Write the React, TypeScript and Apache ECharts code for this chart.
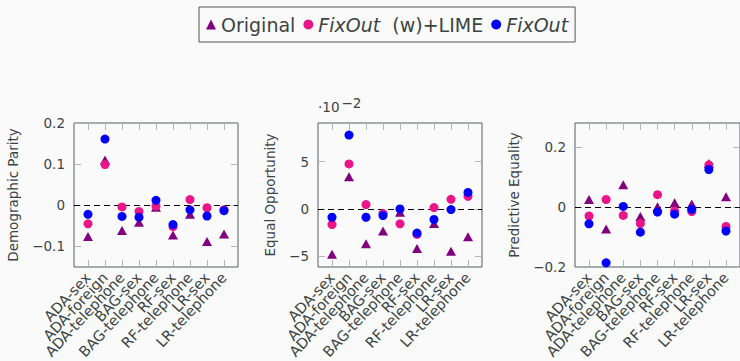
import React, { useEffect, useRef } from "react";
import * as echarts from "echarts";

// ---- data ----
const categories = [
  "ADA-sex", "ADA-foreign", "ADA-telephone", "BAG-sex", "BAG-telephone",
  "RF-sex", "RF-telephone", "LR-sex", "LR-telephone",
];
const seriesNames = ["Original", "FixOut (w)+LIME", "FixOut"];

// Demographic Parity
const dpOriginal = [-0.076, 0.11, -0.061, -0.041, -0.005, -0.072, -0.022, -0.088, -0.07];
const dpFixLime = [-0.045, 0.099, -0.004, -0.015, -0.002, -0.052, 0.014, -0.006, -0.011];
const dpFixOut = [-0.022, 0.161, -0.027, -0.029, 0.012, -0.047, -0.011, -0.026, -0.013];

// Equal Opportunity (in units of 10^-2)
const eoOriginal = [-4.8, 3.4, -3.68, -2.35, -0.35, -4.2, -1.54, -4.49, -2.95];
const eoFixLime = [-1.65, 4.77, 0.46, -0.49, -1.58, -2.7, 0.14, 1.02, 1.33];
const eoFixOut = [-0.88, 7.82, -0.88, -0.7, 0.0, -2.56, -1.12, -0.07, 1.75];

// Predictive Equality
const peOriginal = [0.025, -0.073, 0.074, -0.032, 0.001, 0.014, 0.01, 0.145, 0.034];
const peFixLime = [-0.03, 0.025, -0.028, -0.055, 0.041, -0.013, -0.015, 0.14, -0.065];
const peFixOut = [-0.056, -0.186, 0.002, -0.084, -0.017, -0.024, -0.008, 0.125, -0.08];

// tick labels
const dpTicks = [-0.1, 0, 0.1, 0.2];
const eoTicks = [-5, 0, 5];
const peTicks = [-0.2, 0, 0.2];

const FONT = "DejaVu Sans";
const TEXT = "#3a4444";
const BORDER = "#555d5d";
const TICK = "#b4b4b4";
const C_ORIG = "#800080";
const C_LIME = "#ea1589";
const C_FIX = "#0000ff";

const fmtNum = (v: number) => {
  const s = String(Math.round(v * 1000) / 1000);
  return s.replace("-", "\u2212");
};

export default function App() {
  const ref = useRef<HTMLDivElement>(null);

  useEffect(() => {
    if (!ref.current) return;
    const chart = echarts.init(ref.current, null, { renderer: "svg" });

    const PAD = 14; // distance from box edge to first / last category
    const panels = [
      { name: "Demographic Parity", left: 74, width: 164, min: -0.15, max: 0.2, ticks: dpTicks, nameGap: 54, data: [dpOriginal, dpFixLime, dpFixOut] },
      { name: "Equal Opportunity", left: 318, width: 164, min: -6.15, max: 9.1, ticks: eoTicks, nameGap: 41, data: [eoOriginal, eoFixLime, eoFixOut] },
      { name: "Predictive Equality", left: 575, width: 165, min: -0.2, max: 0.28, ticks: peTicks, nameGap: 54, data: [peOriginal, peFixLime, peFixOut] },
    ];

    const grid: any[] = [];
    const xAxis: any[] = [];
    const yAxis: any[] = [];
    const series: any[] = [];

    panels.forEach((p, gi) => {
      const gBox = gi * 2;
      const gCat = gi * 2 + 1;
      const span = (p.width - 2 * PAD) / (categories.length - 1);
      const padUnits = PAD / span;
      grid.push({
        left: p.left, top: 123, width: p.width, height: 144,
        show: true, borderColor: BORDER, borderWidth: 1, backgroundColor: "transparent",
        containLabel: false, outerBoundsMode: "none",
      });
      grid.push({
        left: p.left + PAD, top: 123, width: p.width - 2 * PAD, height: 144,
        show: false, containLabel: false, outerBoundsMode: "none",
      });

      // value x axis used by the marks (category index positions)
      const xValIdx = xAxis.length;
      xAxis.push({
        type: "value", gridIndex: gBox, min: -padUnits, max: categories.length - 1 + padUnits,
        show: false, axisLine: { show: false, onZero: false },
      });
      // category axes for labels and mirrored ticks
      const catBase = {
        type: "category", gridIndex: gCat, data: categories, boundaryGap: false,
        axisLine: { show: false, onZero: false }, splitLine: { show: false },
        axisTick: { show: true, inside: true, length: 7, interval: 0, lineStyle: { color: TICK, width: 1 } },
      };
      xAxis.push({
        ...catBase, position: "bottom",
        axisLabel: {
          show: true, interval: 0, rotate: 47, margin: 8, hideOverlap: false,
          fontFamily: FONT, fontSize: 14.5, color: TEXT,
        },
      });
      xAxis.push({ ...catBase, position: "top", axisLabel: { show: false } });

      const yBase = {
        type: "value", gridIndex: gBox, min: p.min, max: p.max,
        axisLine: { show: false, onZero: false }, splitLine: { show: false },
        axisTick: { show: true, inside: true, length: 7, customValues: p.ticks, lineStyle: { color: TICK, width: 1 } },
      };
      const yMainIdx = yAxis.length;
      yAxis.push({
        ...yBase, position: "left",
        name: p.name, nameLocation: "middle", nameGap: p.nameGap, nameRotate: 90,
        nameTextStyle: { fontFamily: FONT, fontSize: 13.5, color: TEXT },
        axisLabel: {
          show: true, customValues: p.ticks, margin: 9,
          showMinLabel: true, showMaxLabel: true,
          fontFamily: FONT, fontSize: 13.5, color: TEXT,
          formatter: (v: number) => fmtNum(v),
        },
      });
      yAxis.push({ ...yBase, position: "right", axisLabel: { show: false } });
      yAxis.push({ type: "value", gridIndex: gCat, min: 0, max: 1, show: false });

      const styles = [
        { color: C_ORIG, symbol: "triangle", size: [10, 9] },
        { color: C_LIME, symbol: "circle", size: 9 },
        { color: C_FIX, symbol: "circle", size: 9 },
      ];
      p.data.forEach((vals, si) => {
        const s: any = {
          type: "scatter",
          name: seriesNames[si],
          xAxisIndex: xValIdx,
          yAxisIndex: yMainIdx,
          symbol: styles[si].symbol,
          symbolSize: styles[si].size,
          itemStyle: { color: styles[si].color, opacity: 1 },
          data: vals.map((v, i) => [i, v]),
          z: 3 + si,
        };
        if (si === 0) {
          s.markLine = {
            silent: true, symbol: "none", label: { show: false },
            lineStyle: { color: "#000", type: [6, 4], width: 1 },
            data: [{ yAxis: 0 }],
            z: 2,
          };
        }
        series.push(s);
      });
    });

    chart.setOption({
      animation: false,
      backgroundColor: "#fafafa",
      textStyle: { fontFamily: FONT },
      legend: {
        left: 199, top: 7, width: 384,
        orient: "horizontal",
        borderColor: "#555", borderWidth: 1, borderRadius: 0,
        padding: [8, 7, 8, 7],
        itemGap: 8, itemWidth: 10, itemHeight: 10,
        selectedMode: false,
        textStyle: {
          fontFamily: FONT, fontSize: 19, color: TEXT,
          rich: { i: { fontFamily: FONT, fontSize: 19, fontStyle: "italic", color: TEXT } },
        },
        formatter: (name: string) => {
          if (name === "FixOut (w)+LIME") return "{i|FixOut}  (w)+LIME";
          if (name === "FixOut") return "{i|FixOut}";
          return name;
        },
        data: [
          { name: "Original", icon: "triangle", itemStyle: { color: C_ORIG } },
          { name: "FixOut (w)+LIME", icon: "circle", itemStyle: { color: C_LIME } },
          { name: "FixOut", icon: "circle", itemStyle: { color: C_FIX } },
        ],
      },
      graphic: [
        {
          type: "text", left: 318, top: 96,
          style: {
            text: "\u00b710{s|\u22122}",
            fontFamily: FONT, fontSize: 13.5, fill: TEXT,
            rich: { s: { fontFamily: FONT, fontSize: 13.5, fill: TEXT, verticalAlign: "top", padding: [0, 0, 8, 2] } },
          },
        },
      ],
      grid, xAxis, yAxis, series,
    });

    return () => chart.dispose();
  }, []);

  return (
    <div
      ref={ref}
      style={{ position: "fixed", left: 0, top: 0, width: 740, height: 361, background: "#fafafa" }}
    />
  );
}
